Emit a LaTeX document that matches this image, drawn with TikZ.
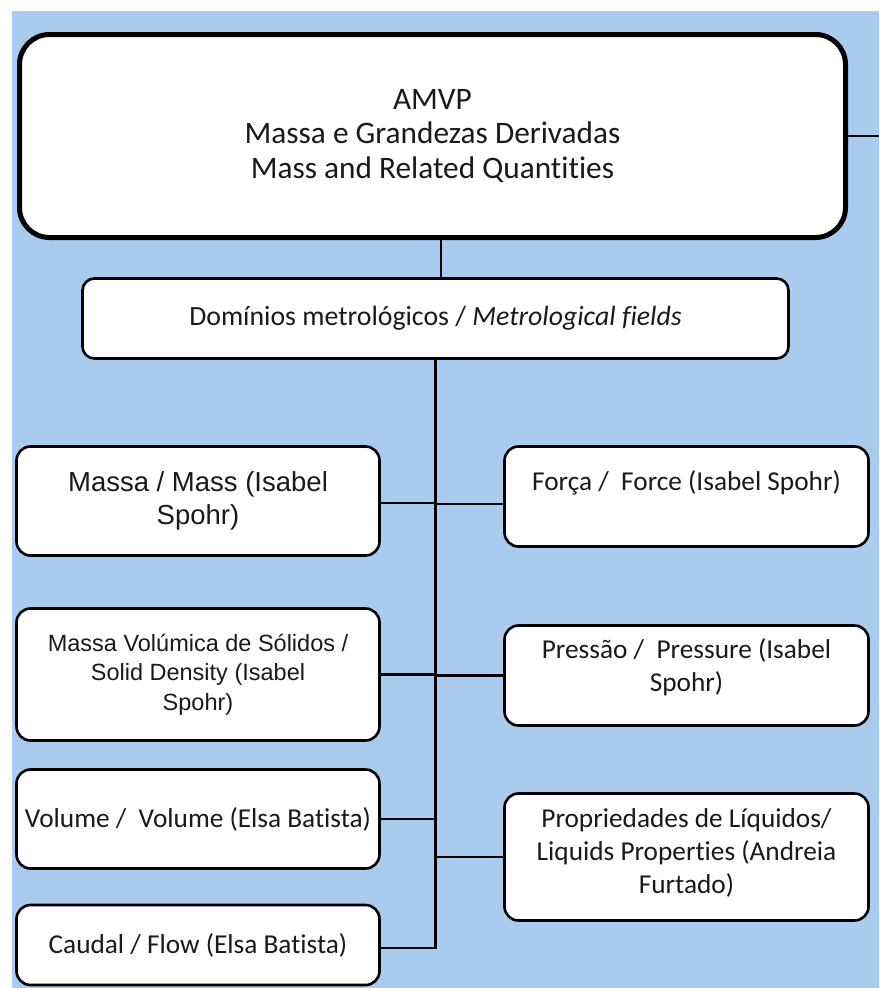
\documentclass[tikz,border=0pt]{standalone}
\usepackage{fontspec}
\setmainfont{Carlito}[Ligatures=NoCommon]
\newfontfamily\arialf{Liberation Sans}
\definecolor{bgblue}{RGB}{169,203,238}
\definecolor{txt}{RGB}{25,25,30}
\begin{document}
\begin{tikzpicture}[x=1pt,y=-1pt,
  box/.style={draw=black, fill=white, rounded corners=14pt, line width=2.6pt, align=center, inner sep=0pt, text=txt},
  conn/.style={draw=black, line width=2.1pt},
  ctext/.style={font=\fontsize{27.3}{33}\selectfont}]
\useasboundingbox (0,0) rectangle (879,988);
\fill[white] (0,0) rectangle (879,988);
\fill[bgblue] (12,11) rectangle (879,988);

\node[box, line width=5pt, rounded corners=30pt, minimum width=826pt, minimum height=203pt, font=\fontsize{31.3}{34.5}\selectfont] (top) at (432.5,136) {AMVP\\Massa e Grandezas Derivadas\\Mass and Related Quantities};

\node[box, rounded corners=12pt, minimum width=706pt, minimum height=80pt, font=\fontsize{27.8}{33}\selectfont] (dom) at (435.5,318.5) {Domínios metrológicos / \textit{Metrological fields}};

\node[box, minimum width=363pt, minimum height=109pt, font=\arialf\fontsize{27.5}{33}\selectfont] (massa) at (198,501) {Massa / Mass (Isabel\\Spohr)};
\node[box, minimum width=363pt, minimum height=132pt, font=\arialf\fontsize{23.5}{29.5}\selectfont] (msol) at (198,674.5) {Massa Volúmica de Sólidos /\\Solid Density (Isabel\\Spohr)};
\node[box, minimum width=363pt, minimum height=99pt, ctext] (vol) at (198,819) {Volume /\ \ Volume (Elsa Batista)};
\node[box, minimum width=363pt, minimum height=80pt, ctext] (caud) at (198,945) {Caudal / Flow (Elsa Batista)};

\node[box, minimum width=364pt, minimum height=100pt, ctext] (forca) at (686.5,496.5) {Força /\ \ Force (Isabel Spohr)\rule[-31pt]{0pt}{0pt}};
\node[box, minimum width=364pt, minimum height=100pt, ctext] (press) at (686.5,675.5) {Pressão /\ \ Pressure (Isabel\\Spohr)\rule[-20pt]{0pt}{0pt}};
\node[box, minimum width=364pt, minimum height=127pt, ctext] (prop) at (686.5,857) {Propriedades de Líquidos/\\Liquids Properties (Andreia\\Furtado)\rule[-12pt]{0pt}{0pt}};

\coordinate (edge) at (879,136);
\draw[conn] (top.east) -- (edge);
\draw[conn] ([xshift=8.5pt]top.south) -- ([xshift=8.5pt]top.south |- dom.north);
\draw[conn] (dom.south) |- ([yshift=-3pt]caud.east);
\draw[conn] ([yshift=-2pt]massa.east) -- ([yshift=-2pt]massa.east -| dom.south);
\draw[conn] (msol.east) -- (msol.east -| dom.south);
\draw[conn] (vol.east) -- (vol.east -| dom.south);
\draw[conn] ([yshift=-7.5pt]forca.west) -- ([yshift=-7.5pt]forca.west -| dom.south);
\draw[conn] (press.west) -- (press.west -| dom.south);
\draw[conn] (prop.west) -- (prop.west -| dom.south);
\end{tikzpicture}
\end{document}
